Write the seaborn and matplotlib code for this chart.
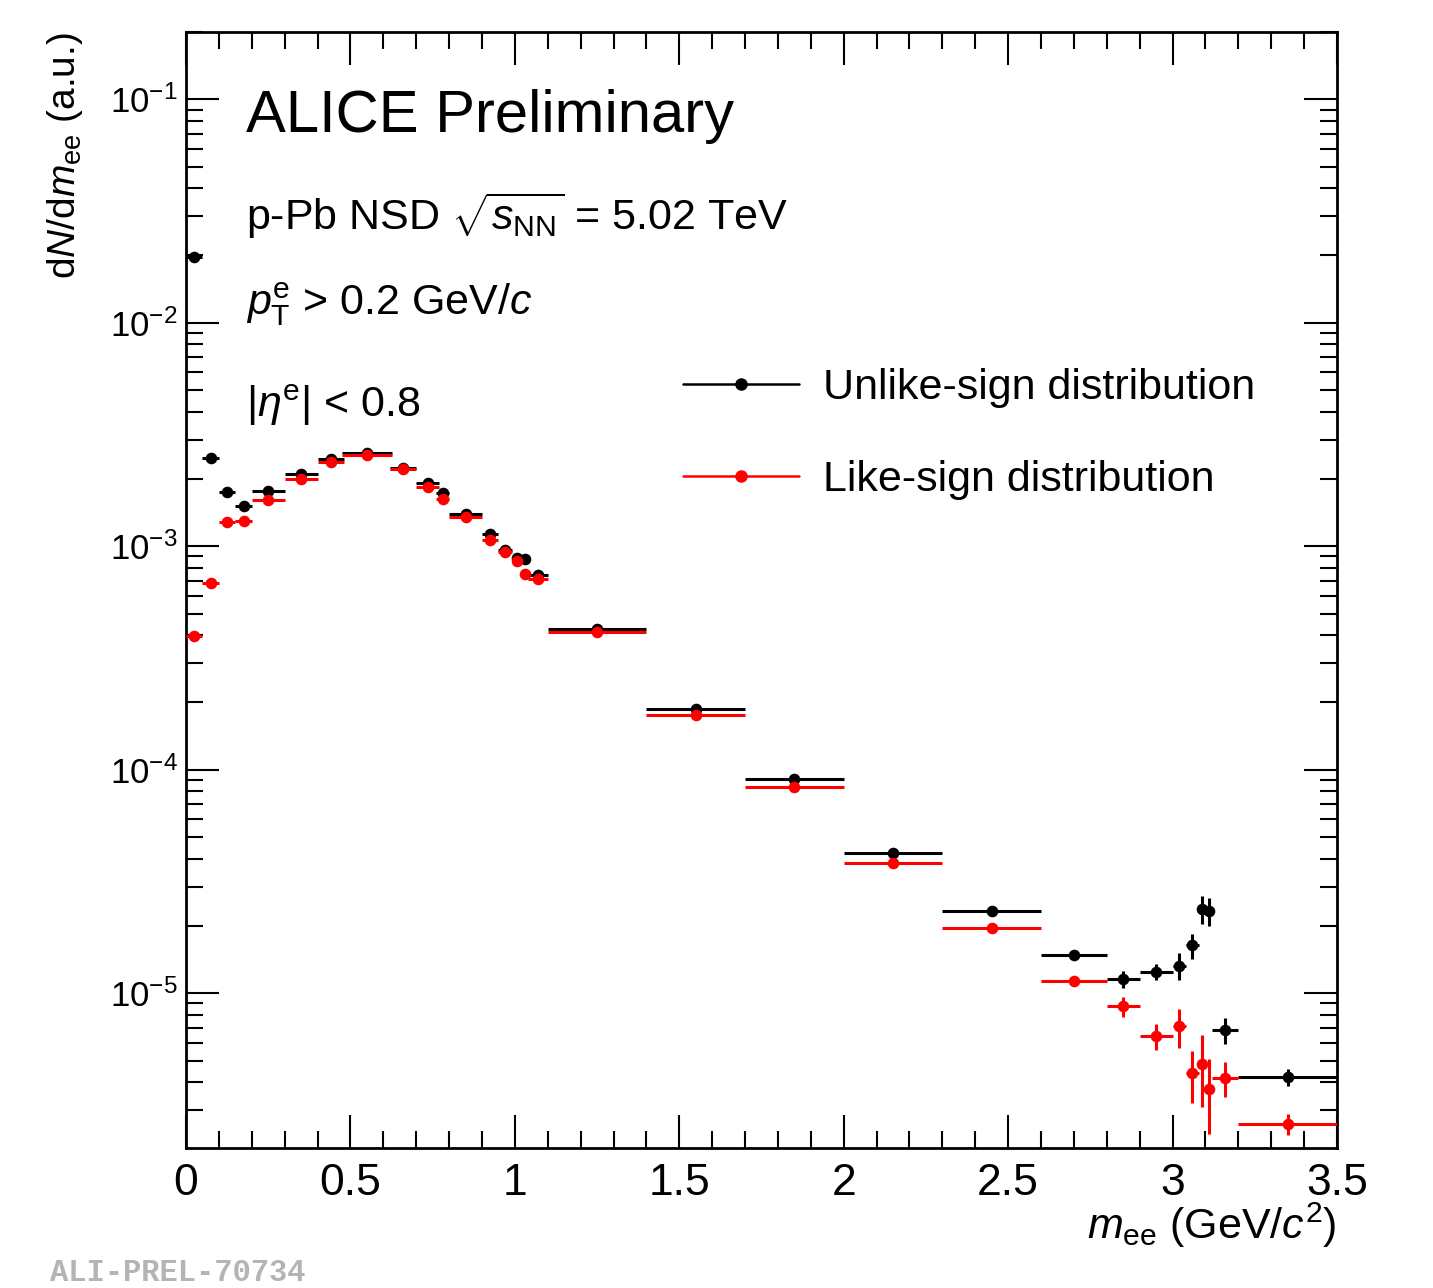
import numpy as np
import pandas as pd
import seaborn as sns
import matplotlib
matplotlib.use("Agg")
import matplotlib.pyplot as plt
from matplotlib.lines import Line2D
from matplotlib.ticker import MultipleLocator, LogLocator, NullFormatter

# bin centres and half widths (GeV/c^2)
mass = [0.025, 0.075, 0.125, 0.175, 0.25, 0.35, 0.44, 0.55, 0.66, 0.735, 0.78,
        0.85, 0.925, 0.97, 1.005, 1.03, 1.07, 1.25, 1.55, 1.85, 2.15, 2.45,
        2.70, 2.85, 2.95, 3.02, 3.06, 3.09, 3.11, 3.16, 3.35]
half_width = [0.025, 0.025, 0.025, 0.025, 0.05, 0.05, 0.04, 0.075, 0.04, 0.035, 0.02,
              0.05, 0.025, 0.02, 0.015, 0.01, 0.03, 0.15, 0.15, 0.15, 0.15, 0.15,
              0.10, 0.05, 0.05, 0.02, 0.02, 0.01, 0.01, 0.04, 0.15]

unlike = [1.96e-2, 2.48e-3, 1.75e-3, 1.52e-3, 1.76e-3, 2.10e-3, 2.45e-3, 2.61e-3,
          2.23e-3, 1.91e-3, 1.73e-3, 1.39e-3, 1.14e-3, 9.6e-4, 8.9e-4, 8.8e-4,
          7.4e-4, 4.26e-4, 1.87e-4, 9.06e-5, 4.22e-5, 2.33e-5, 1.48e-5, 1.16e-5,
          1.25e-5, 1.33e-5, 1.64e-5, 2.38e-5, 2.33e-5, 6.83e-6, 4.21e-6]
unlike_err = [2e-4, 3e-5, 2e-5, 2e-5, 1.5e-5, 1.5e-5, 1.5e-5, 1.5e-5,
              1.5e-5, 1.5e-5, 1.5e-5, 1e-5, 1e-5, 1e-5, 1e-5, 1e-5,
              8e-6, 4e-6, 2e-6, 1e-6, 6e-7, 4e-7, 3e-7, 1.0e-6,
              1.07e-6, 1.8e-6, 2.1e-6, 3.4e-6, 3.4e-6, 9.2e-7, 3.6e-7]

like = [3.96e-4, 6.83e-4, 1.28e-3, 1.30e-3, 1.61e-3, 2.00e-3, 2.38e-3, 2.55e-3,
        2.22e-3, 1.84e-3, 1.62e-3, 1.35e-3, 1.07e-3, 9.4e-4, 8.57e-4, 7.5e-4,
        7.1e-4, 4.12e-4, 1.75e-4, 8.36e-5, 3.82e-5, 1.95e-5, 1.13e-5, 8.75e-6,
        6.43e-6, 7.1e-6, 4.39e-6, 4.81e-6, 3.72e-6, 4.17e-6, 2.6e-6]
like_err = [1e-5, 1.5e-5, 2e-5, 2e-5, 1.5e-5, 1.5e-5, 1.5e-5, 1.5e-5,
            1.5e-5, 1.5e-5, 1.5e-5, 1e-5, 1e-5, 1e-5, 1e-5, 1e-5,
            8e-6, 4e-6, 2e-6, 1e-6, 6e-7, 4e-7, 4e-7, 9e-7,
            8.4e-7, 1.4e-6, 1.15e-6, 1.7e-6, 1.37e-6, 7.5e-7, 2.9e-7]

labels = ["Unlike-sign distribution", "Like-sign distribution"]
colors = ["black", "red"]

df = pd.concat([
    pd.DataFrame({"mass": mass, "xerr": half_width, "y": unlike, "yerr": unlike_err, "series": labels[0]}),
    pd.DataFrame({"mass": mass, "xerr": half_width, "y": like, "yerr": like_err, "series": labels[1]}),
], ignore_index=True)

sns.set_theme(style="ticks")
plt.rcParams["font.family"] = ["Liberation Sans", "DejaVu Sans"]
plt.rcParams["mathtext.fontset"] = "custom"
plt.rcParams["mathtext.rm"] = "Liberation Sans"
plt.rcParams["mathtext.it"] = "Liberation Sans:italic"
plt.rcParams["mathtext.bf"] = "Liberation Sans:bold"
plt.rcParams["text.color"] = "black"
plt.rcParams["axes.labelcolor"] = "black"
plt.rcParams["xtick.color"] = "black"
plt.rcParams["ytick.color"] = "black"

fig = plt.figure(figsize=(14.33, 12.88), dpi=100)
ax = fig.add_axes([186 / 1433, 1 - 1148 / 1288, (1337 - 186) / 1433, (1148 - 32) / 1288])

z = 2
for lab, col in zip(labels, colors):
    sub = df[df["series"] == lab]
    ax.errorbar(sub["mass"], sub["y"], xerr=sub["xerr"], yerr=sub["yerr"],
                fmt="none", ecolor=col, elinewidth=2.2, capsize=0, zorder=z)
    sns.scatterplot(data=sub, x="mass", y="y", color=col, s=70, linewidth=0,
                    ax=ax, zorder=z + 1, legend=False)
    z += 2

ax.set_yscale("log")
ax.set_xlim(0, 3.5)
ax.set_ylim(2.03e-6, 0.2)

ax.xaxis.set_major_locator(MultipleLocator(0.5))
ax.xaxis.set_minor_locator(MultipleLocator(0.1))
ax.yaxis.set_major_locator(LogLocator(base=10, numticks=20))
ax.yaxis.set_minor_locator(LogLocator(base=10, subs=np.arange(2, 10), numticks=20))
ax.yaxis.set_minor_formatter(NullFormatter())
ax.xaxis.set_major_formatter(plt.FuncFormatter(lambda v, p: "%g" % v))
ax.yaxis.set_major_formatter(plt.FuncFormatter(
    lambda v, p: r"$10^{\mathregular{-%d}}$" % round(-np.log10(v))))

ax.tick_params(which="both", direction="in", top=True, right=True, colors="black")
ax.tick_params(which="major", length=24, width=1.5)
ax.tick_params(which="minor", length=12, width=1.5)
ax.tick_params(axis="x", which="major", labelsize=32, pad=11)
ax.tick_params(axis="y", which="major", labelsize=25, pad=6)
for sp in ax.spines.values():
    sp.set_linewidth(2)
    sp.set_color("black")

ax.set_xlabel(r"$m_{\rm ee}$ (GeV/$c^{2}$)", fontsize=31, loc="right")
ax.xaxis.set_label_coords(1.0, -0.047)
ax.set_ylabel(r"d$N$/d$m_{\rm ee}$ (a.u.)", fontsize=28, loc="top")
ax.yaxis.set_label_coords(-0.088, 1.0)

tx = 246 / 1433
fig.text(tx, 1 - 132 / 1288, "ALICE Preliminary", fontsize=43, va="baseline")
fig.text(tx, 1 - 230 / 1288, r"p-Pb NSD $\sqrt{s_{\rm NN}}$ = 5.02 TeV", fontsize=31, va="baseline")
fig.text(tx, 1 - 315 / 1288, r"$p_{\rm T}^{\rm e}$ > 0.2 GeV/$c$", fontsize=31, va="baseline")
fig.text(tx, 1 - 417 / 1288, r"|$\eta^{\rm e}$| < 0.8", fontsize=31, va="baseline")

handles = [Line2D([], [], color=c, lw=1.8, marker="o", markersize=8) for c in colors]
ax.legend(handles, labels, loc="upper left", bbox_to_anchor=((683 - 186) / 1151, (1148 - 368) / 1116),
          frameon=False, fontsize=31, handlelength=2.7, handletextpad=0.55, labelspacing=1.2,
          borderpad=0, borderaxespad=0)

fig.text(50 / 1433, 1 - 1281 / 1288, "ALI-PREL-70734", fontsize=22, family="Liberation Mono",
         fontweight="bold", color="#b4b4b4", va="baseline")

fig.savefig("out.png", dpi=100)
